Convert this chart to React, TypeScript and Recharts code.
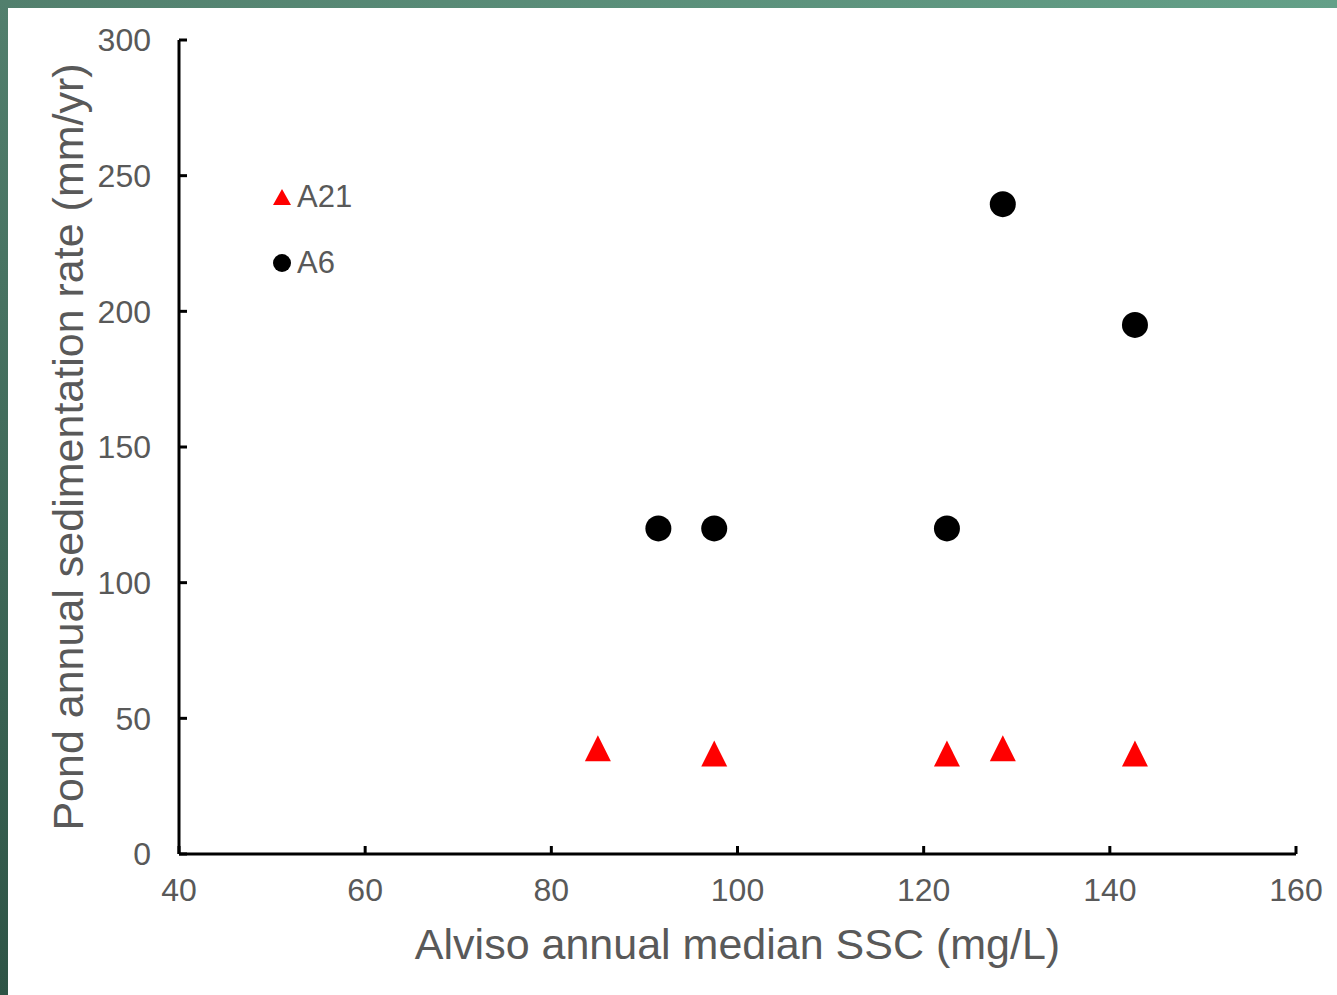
import { ScatterChart, Scatter, XAxis, YAxis } from 'recharts';

const xTicks = [40, 60, 80, 100, 120, 140, 160];
const yTicks = [0, 50, 100, 150, 200, 250, 300];

// A21 pond (red triangles)
const a21Ssc = [85, 97.5, 122.5, 128.5, 142.7];
const a21Rate = [39, 37, 37, 39, 37];

// A6 pond (black circles)
const a6Ssc = [91.5, 97.5, 122.5, 128.5, 142.7];
const a6Rate = [120, 120, 120, 239.5, 195];

const a21Data = a21Ssc.map((x, i) => ({ x, y: a21Rate[i] }));
const a6Data = a6Ssc.map((x, i) => ({ x, y: a6Rate[i] }));

const FONT = '"Liberation Sans", Arial, sans-serif';
const GRAY = '#595959';

const Triangle = ({ cx, cy }: any) => (
  <polygon
    points={`${cx},${cy - 13} ${cx - 13},${cy + 13} ${cx + 13},${cy + 13}`}
    fill="#FF0000"
  />
);

const Dot = ({ cx, cy }: any) => <circle cx={cx} cy={cy} r={13} fill="#000" />;

const YTitle = ({ viewBox }: any) => {
  const x = viewBox.x + 68;
  const y = viewBox.y + viewBox.height / 2;
  return (
    <text
      x={x}
      y={y}
      transform={`rotate(-90, ${x}, ${y})`}
      textAnchor="middle"
      dominantBaseline="central"
      fill={GRAY}
      fontSize={43}
      fontFamily={FONT}
    >
      Pond annual sedimentation rate (mm/yr)
    </text>
  );
};

const XTitle = ({ viewBox }: any) => (
  <text
    x={viewBox.x + viewBox.width / 2}
    y={viewBox.y + 105}
    textAnchor="middle"
    fill={GRAY}
    fontSize={43}
    fontFamily={FONT}
  >
    Alviso annual median SSC (mg/L)
  </text>
);

const LegendBox = () => (
  <div style={{ position: 'absolute', left: 272, top: 164, fontFamily: FONT, fontSize: 31, color: GRAY }}>
    <div style={{ display: 'flex', alignItems: 'center', height: 66 }}>
      <svg width={20} height={20} style={{ marginRight: 5 }}>
        <polygon points="10,2 1,18 19,18" fill="#FF0000" />
      </svg>
      A21
    </div>
    <div style={{ display: 'flex', alignItems: 'center', height: 66 }}>
      <svg width={20} height={20} style={{ marginRight: 5 }}>
        <circle cx={10} cy={10} r={9} fill="#000" />
      </svg>
      A6
    </div>
  </div>
);

export default function App() {
  return (
    <div style={{ position: 'absolute', left: 0, top: 0, width: 1337, height: 995, background: '#fff' }}>
      <div style={{ position: 'absolute', left: 0, top: 0, width: 1337, height: 8, background: 'linear-gradient(to right, #527f6d, #64a088)' }} />
      <div style={{ position: 'absolute', left: 0, top: 0, width: 8, height: 995, background: 'linear-gradient(to bottom, #527f6d, #2e5446)' }} />
      <div style={{ position: 'absolute', left: 0, top: 0 }}>
        <ScatterChart width={1337} height={995} margin={{ top: 40, right: 41, left: 0, bottom: 0 }}>
          <XAxis
            type="number"
            dataKey="x"
            domain={[40, 160]}
            ticks={xTicks}
            interval={0}
            height={141}
            axisLine={{ stroke: '#000', strokeWidth: 3 }}
            tickLine={{ stroke: '#000', strokeWidth: 3 }}
            tickSize={-8}
            tickMargin={32}
            tick={{ fill: GRAY, fontSize: 32, fontFamily: FONT }}
            label={<XTitle />}
          />
          <YAxis
            type="number"
            dataKey="y"
            domain={[0, 300]}
            ticks={yTicks}
            interval={0}
            width={179}
            axisLine={{ stroke: '#000', strokeWidth: 3 }}
            tickLine={{ stroke: '#000', strokeWidth: 3 }}
            tickSize={-8}
            tickMargin={36}
            tick={{ fill: GRAY, fontSize: 32, fontFamily: FONT }}
            label={<YTitle />}
          />
          <Scatter name="A21" data={a21Data} shape={<Triangle />} isAnimationActive={false} />
          <Scatter name="A6" data={a6Data} shape={<Dot />} isAnimationActive={false} />
        </ScatterChart>
      </div>
      <LegendBox />
    </div>
  );
}
